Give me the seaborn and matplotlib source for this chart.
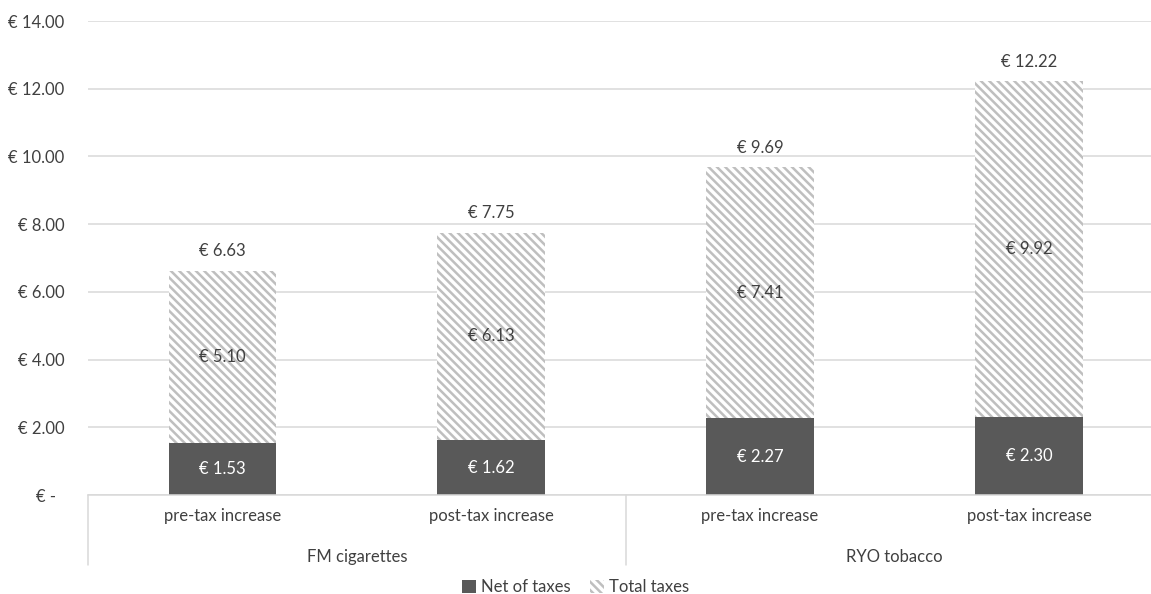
import matplotlib
matplotlib.use("Agg")
import matplotlib.pyplot as plt
import matplotlib.transforms as mtransforms
from matplotlib.patches import Patch
import seaborn as sns
import pandas as pd

groups = ["FM cigarettes", "FM cigarettes", "RYO tobacco", "RYO tobacco"]
periods = ["pre-tax increase", "post-tax increase", "pre-tax increase", "post-tax increase"]
net_of_taxes = [1.53, 1.62, 2.27, 2.30]
total_taxes = [5.10, 6.13, 7.41, 9.92]
totals = [6.63, 7.75, 9.69, 12.22]
group_names = ["FM cigarettes", "RYO tobacco"]
y_ticks = [0, 2, 4, 6, 8, 10, 12, 14]

keys = [f"{g}|{p}" for g, p in zip(groups, periods)]
df = pd.DataFrame({"key": keys, "net": net_of_taxes, "taxes": total_taxes, "total": totals})

sns.set_theme(style="white")
plt.rcParams['font.family'] = ['Lato', 'DejaVu Sans']
plt.rcParams['hatch.linewidth'] = 1.8

TXT = "#404040"
DARK = "#595959"
HATCH = "#bfbfbf"
GRID = "#d9d9d9"
HP = "\\\\\\\\"
FS = 12

fig = plt.figure(figsize=(11.51, 5.94), dpi=100)
ax = fig.add_axes([88/1151, 99/594, 1 - 88/1151, 474/594])

# Stacked: total (hatched) drawn first, net (dark) drawn over its lower part
sns.barplot(data=df, x="key", y="total", order=keys, width=0.4, ax=ax,
            color="white", edgecolor=HATCH, linewidth=0, hatch=HP, errorbar=None,
            saturation=1)
sns.barplot(data=df, x="key", y="net", order=keys, width=0.4, ax=ax,
            color=DARK, linewidth=0, errorbar=None, saturation=1)

ax.set_xlim(-0.5, 3.454)
ax.set_ylim(0, 14)
ax.set_yticks(y_ticks)
ax.yaxis.set_major_formatter(plt.FuncFormatter(lambda v, p: "€ -  " if v == 0 else f"€ {v:.2f}"))
ax.grid(axis="y", color=GRID, linewidth=1.1)
ax.set_axisbelow(True)
for s in ["top", "right", "left"]:
    ax.spines[s].set_visible(False)
ax.spines["bottom"].set_color(GRID)
ax.spines["bottom"].set_linewidth(1.1)
ax.tick_params(axis="y", length=0, pad=17, labelsize=FS, labelcolor=TXT)
ax.tick_params(axis="x", length=0, pad=9, labelsize=FS, labelcolor=TXT)
ax.set_xticks(range(len(keys)))
ax.set_xticklabels(periods)
ax.set_xlabel("")
ax.set_ylabel("")

# data labels
for i, (n, t, tot) in enumerate(zip(net_of_taxes, total_taxes, totals)):
    ax.text(i, n / 2, f"€ {n:.2f}", ha="center", va="center", color="white", fontsize=FS)
    ax.text(i, n + t / 2, f"€ {t:.2f}", ha="center", va="center", color=TXT, fontsize=FS)
    ax.annotate(f"€ {tot:.2f}", (i, tot), xytext=(0, 8), textcoords="offset points",
                ha="center", va="bottom", color=TXT, fontsize=FS)

# hierarchical category axis: separators and group labels
trans = mtransforms.blended_transform_factory(ax.transData, ax.transAxes)
for xs in [-0.5, 1.5, 3.5]:
    ax.plot([xs, xs], [0, -70/474], transform=trans, color=GRID, linewidth=1.1, clip_on=False)
for gi, g in enumerate(group_names):
    ax.text(gi * 2 + 0.5, -62/474, g, transform=trans, ha="center", va="center",
            color=TXT, fontsize=FS)

handles = [Patch(facecolor=DARK, edgecolor=DARK, linewidth=0, label="Net of taxes"),
           Patch(facecolor="white", edgecolor=HATCH, linewidth=0, hatch=HP, label="Total taxes")]
fig.legend(handles=handles, loc="center", bbox_to_anchor=(0.5, 1 - 587/594), ncol=2,
           frameon=False, fontsize=FS, labelcolor=TXT, handlelength=0.8, handleheight=0.8,
           handletextpad=0.3, columnspacing=1.2)

fig.savefig("out.png", dpi=100)
